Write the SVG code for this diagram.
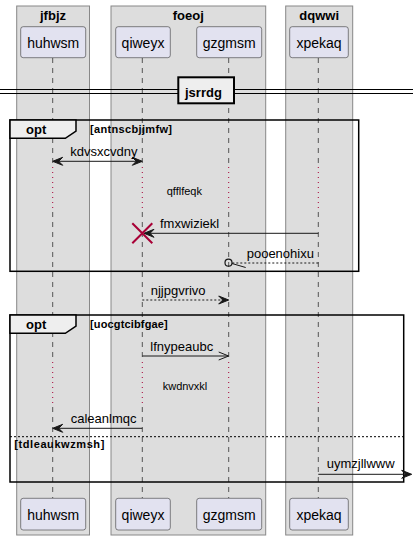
<svg xmlns="http://www.w3.org/2000/svg" width="419" height="540" viewBox="0 0 419 540">
<style>
.box{fill:#DDDDDD;stroke:#888888;stroke-width:1}
.btitle{font-family:"Liberation Sans",Arial,sans-serif;font-size:13px;font-weight:bold;fill:#000;text-anchor:middle}
.part{fill:#E2E2F0;stroke:#181818;stroke-width:0.5}
.pname{font-family:"Liberation Sans",Arial,sans-serif;font-size:14px;fill:#000;text-anchor:middle}
.life{stroke:#555555;stroke-width:1;stroke-dasharray:5,5;fill:none}
.delay{stroke:#A80036;stroke-width:1;stroke-dasharray:1,4;fill:none}
.msg{font-family:"Liberation Sans",Arial,sans-serif;font-size:13px;fill:#000}
.note{font-family:"Liberation Sans",Arial,sans-serif;font-size:11px;fill:#000}
.frame{fill:none;stroke:#000;stroke-width:1.5}
.tab{fill:#EEEEEE;stroke:#000;stroke-width:1.5}
.ftitle{font-family:"Liberation Sans",Arial,sans-serif;font-size:13px;font-weight:bold;fill:#000}
.guard{font-family:"Liberation Sans",Arial,sans-serif;font-size:11px;font-weight:bold;fill:#000}
.line{stroke:#181818;stroke-width:1;fill:none}
.dash{stroke:#181818;stroke-width:1;stroke-dasharray:2,2;fill:none}
.head{fill:#181818;stroke:#181818;stroke-width:1}
</style>
<g id="box-jfbjz"><rect class="box" x="16.7" y="6" width="72.8" height="529"/><text class="btitle" x="53" y="20">jfbjz</text></g>
<g id="box-foeoj"><rect class="box" x="111" y="6" width="154.7" height="529"/><text class="btitle" x="188.3" y="20">foeoj</text></g>
<g id="box-dqwwi"><rect class="box" x="285.7" y="6" width="67" height="529"/><text class="btitle" x="319.2" y="20">dqwwi</text></g>

<g id="lifelines">
<path class="life" d="M52.7,58V167M52.7,212V362M52.7,407V498"/>
<path class="life" d="M142.3,58V167M142.3,212V362M142.3,407V498"/>
<path class="life" d="M228.7,58V167M228.7,212V362M228.7,407V498"/>
<path class="life" d="M318.3,58V167M318.3,212V362M318.3,407V498"/>
<path class="delay" d="M52.7,167V212M142.3,167V212M228.7,167V212M318.3,167V212"/>
<path class="delay" d="M52.7,362V407M142.3,362V407M228.7,362V407M318.3,362V407"/>
</g>

<g id="p-huhwsm"><rect class="part" x="20.7" y="26.7" width="65" height="31" rx="2.5"/><text class="pname" x="53.2" y="47.5">huhwsm</text>
<rect class="part" x="20.7" y="498.3" width="65" height="31.7" rx="2.5"/><text class="pname" x="53.2" y="519.5">huhwsm</text></g>
<g id="p-qiweyx"><rect class="part" x="115.7" y="26.7" width="54.6" height="31" rx="2.5"/><text class="pname" x="143" y="47.5">qiweyx</text>
<rect class="part" x="115.7" y="498.3" width="54.6" height="31.7" rx="2.5"/><text class="pname" x="143" y="519.5">qiweyx</text></g>
<g id="p-gzgmsm"><rect class="part" x="196.7" y="26.7" width="65" height="31" rx="2.5"/><text class="pname" x="229.2" y="47.5">gzgmsm</text>
<rect class="part" x="196.7" y="498.3" width="65" height="31.7" rx="2.5"/><text class="pname" x="229.2" y="519.5">gzgmsm</text></g>
<g id="p-xpekaq"><rect class="part" x="289.7" y="26.7" width="58.6" height="31" rx="2.5"/><text class="pname" x="319" y="47.5">xpekaq</text>
<rect class="part" x="289.7" y="498.3" width="58.6" height="31.7" rx="2.5"/><text class="pname" x="319" y="519.5">xpekaq</text></g>

<g id="divider-jsrrdg">
<path d="M0,89.5H413M0,93.5H413" stroke="#000" stroke-width="1" fill="none"/>
<rect x="178.3" y="77.3" width="55.7" height="26" fill="#EEEEEE" stroke="#000" stroke-width="2"/>
<text class="ftitle" x="185" y="96.5">jsrrdg</text>
</g>

<g id="frame-opt1">
<rect class="frame" x="10" y="120" width="348.7" height="151.3"/>
<path class="tab" d="M10,120H76V131L65.3,138.3H10Z"/>
<text class="ftitle" x="26" y="134">opt</text>
<text class="guard" x="90" y="133" textLength="82" lengthAdjust="spacing">[antnscbjjmfw]</text>
</g>

<g id="frame-opt2">
<rect class="frame" x="10" y="315" width="393.7" height="167"/>
<path class="tab" d="M10,315H76V326L65.3,333.3H10Z"/>
<text class="ftitle" x="26" y="329">opt</text>
<text class="guard" x="90" y="328" textLength="77.7" lengthAdjust="spacing">[uocgtcibfgae]</text>
<path d="M10,436.7H403" stroke="#000" stroke-width="1" stroke-dasharray="2,2" fill="none"/>
<text class="guard" x="14.3" y="448" textLength="90" lengthAdjust="spacing">[tdleaukwzmsh]</text>
</g>

<g id="connectors">
<path class="line" d="M53.7,161.3H141.3"/>
<polygon class="head" points="52.7,161.3 62.7,157.3 58.7,161.3 62.7,165.3"/>
<polygon class="head" points="142.3,161.3 132.3,157.3 136.3,161.3 132.3,165.3"/>
<text class="msg" x="70.3" y="156">kdvsxcvdny</text>

<text class="note" x="166.7" y="195">qfflfeqk</text>

<path class="line" d="M318.3,233.3H145"/>
<polygon class="head" points="144,233.3 154,229.3 150,233.3 154,237.3"/>
<path d="M132.3,223.3L152.3,243.3M152.3,223.3L132.3,243.3" stroke="#A80036" stroke-width="2" fill="none"/>
<text class="msg" x="160" y="228.3">fmxwiziekl</text>

<path class="dash" d="M318.3,263H232"/>
<circle cx="228.5" cy="262.7" r="3.5" fill="none" stroke="#181818" stroke-width="1.2"/>
<path class="line" d="M232,263.5L245.7,267.5"/>
<text class="msg" x="246.7" y="258.3">pooenohixu</text>

<path class="dash" d="M142.3,300H226"/>
<polygon class="head" points="228.7,300 218.7,296 222.7,300 218.7,304"/>
<text class="msg" x="150.7" y="295">njjpgvrivo</text>

<path class="line" d="M142.3,356H227.7"/>
<path class="line" d="M218.7,352L228.7,356L218.7,360"/>
<text class="msg" x="150.3" y="351">lfnypeaubc</text>

<text class="note" x="162.7" y="390">kwdnvxkl</text>

<path class="line" d="M142.3,428.3H54"/>
<polygon class="head" points="52.7,428.3 62.7,424.3 58.7,428.3 62.7,432.3"/>
<text class="msg" x="70.7" y="423.3">caleanlmqc</text>

<path class="line" d="M318.3,474.3H410"/>
<polygon class="head" points="411.7,474.3 401.7,470.3 405.7,474.3 401.7,478.3"/>
<text class="msg" x="326.7" y="468.3">uymzjllwww</text>
</g>
</svg>
